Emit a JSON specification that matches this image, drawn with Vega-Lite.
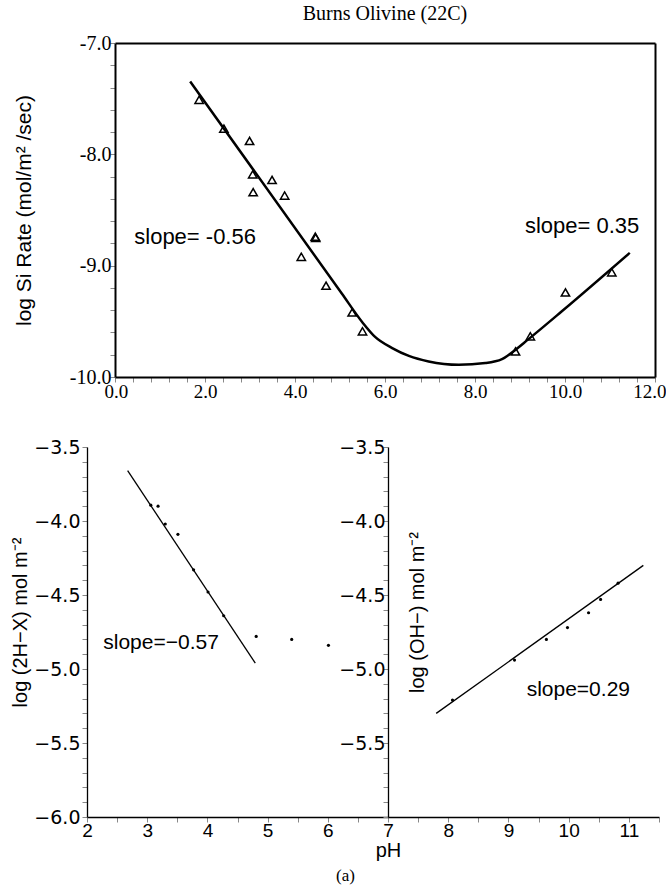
{
  "$schema": "https://vega.github.io/schema/vega-lite/v6.json",
  "background": "white",
  "padding": {"left": 10, "top": 4, "right": 0, "bottom": 2},
  "spacing": 37,
  "config": {
    "view": {"stroke": null},
    "font": "Liberation Sans",
    "axis": {"grid": false, "labelFlush": false, "labelOverlap": false, "labelBound": false, "domainColor": "black", "labelColor": "black", "titleColor": "black", "titleFontWeight": "normal"}
  },
  "vconcat": [
    {
      "width": 540,
      "height": 334,
      "title": {"text": "Burns Olivine (22C)", "font": "Liberation Serif", "fontSize": 20, "fontWeight": "normal", "offset": 9, "frame": "group", "color": "black"},
      "resolve": {"axis": {"x": "independent", "y": "independent"}},
      "layer": [
        {
          "data": {"values": [
            {"x": 1.67, "y": -7.345}, {"x": 5.04, "y": -9.25}, {"x": 5.5, "y": -9.51}, {"x": 5.78, "y": -9.64},
            {"x": 6.16, "y": -9.74}, {"x": 6.53, "y": -9.81}, {"x": 6.97, "y": -9.86}, {"x": 7.64, "y": -9.89},
            {"x": 8.23, "y": -9.875}, {"x": 8.6, "y": -9.84}, {"x": 8.82, "y": -9.78}, {"x": 9.19, "y": -9.66},
            {"x": 9.93, "y": -9.41}, {"x": 11.44, "y": -8.885}
          ]},
          "mark": {"type": "line", "color": "black", "strokeWidth": 2.5, "interpolate": "monotone"},
          "encoding": {
            "x": {"field": "x", "type": "quantitative", "scale": {"domain": [0, 12], "nice": false, "zero": false},
              "axis": {"orient": "bottom", "title": null,
                "values": [0, 0.4, 0.8, 1.2, 1.6, 2, 2.4, 2.8, 3.2, 3.6, 4, 4.4, 4.8, 5.2, 5.6, 6, 6.4, 6.8, 7.2, 7.6, 8, 8.4, 8.8, 9.2, 9.6, 10, 10.4, 10.8, 11.2, 11.6, 12],
                "labelExpr": "datum.value % 2 === 0 ? format(datum.value, '.1f') : ''", "labelFlush": true, "labelFlushOffset": 11,
                "labelFont": "Liberation Serif", "labelFontSize": 19, "labelPadding": 0, "domainWidth": 2}},
            "y": {"field": "y", "type": "quantitative", "scale": {"domain": [-10, -7], "nice": false, "zero": false},
              "axis": {"orient": "left", "title": "log Si Rate (mol/m² /sec)",
                "values": [-7, -7.2, -7.4, -7.6, -7.8, -8, -8.2, -8.4, -8.6, -8.8, -9, -9.2, -9.4, -9.6, -9.8, -10],
                "labelExpr": "datum.value % 1 === 0 ? replace(format(datum.value, '.1f'), '−', '-') : ''",
                "labelFont": "Liberation Serif", "labelFontSize": 20, "labelPadding": -1, "domainWidth": 2,
                "titleFont": "Liberation Sans", "titleFontSize": 21, "titleX": -91, "titleY": 167, "titleBaseline": "middle", "titleAngle": -90}}
          }
        },
        {
          "data": {"values": [
            {"x": 1.87, "y": -7.51}, {"x": 2.42, "y": -7.77}, {"x": 2.99, "y": -7.88}, {"x": 3.06, "y": -8.18},
            {"x": 3.07, "y": -8.34}, {"x": 3.49, "y": -8.23}, {"x": 3.77, "y": -8.37}, {"x": 4.45, "y": -8.74},
            {"x": 4.46, "y": -8.75}, {"x": 4.14, "y": -8.92}, {"x": 4.69, "y": -9.18}, {"x": 5.27, "y": -9.42},
            {"x": 5.5, "y": -9.59}, {"x": 8.9, "y": -9.77}, {"x": 9.23, "y": -9.635}, {"x": 10.01, "y": -9.24},
            {"x": 11.04, "y": -9.06}
          ]},
          "mark": {"type": "point", "shape": "triangle-up", "filled": false, "color": "black", "strokeWidth": 1.5, "size": 70, "opacity": 1},
          "encoding": {
            "x": {"field": "x", "type": "quantitative", "scale": {"domain": [0, 12], "nice": false, "zero": false},
              "axis": {"orient": "top", "title": null, "labels": false, "ticks": false, "domainWidth": 2}},
            "y": {"field": "y", "type": "quantitative", "scale": {"domain": [-10, -7], "nice": false, "zero": false},
              "axis": {"orient": "right", "title": null, "labels": false, "ticks": false, "domainWidth": 2}}
          }
        },
        {
          "data": {"values": [
            {"x": 1.78, "y": -8.74, "label": "slope= -0.56"},
            {"x": 10.38, "y": -8.64, "label": "slope= 0.35"}
          ]},
          "mark": {"type": "text", "font": "Liberation Sans", "fontSize": 22, "color": "black", "align": "center", "baseline": "middle"},
          "encoding": {
            "x": {"field": "x", "type": "quantitative", "scale": {"domain": [0, 12], "nice": false, "zero": false}, "axis": null},
            "y": {"field": "y", "type": "quantitative", "scale": {"domain": [-10, -7], "nice": false, "zero": false}, "axis": null},
            "text": {"field": "label", "type": "nominal"}
          }
        }
      ]
    },
    {
      "width": 544,
      "height": 370,
      "title": {"text": "(a)", "orient": "bottom", "anchor": "start", "frame": "group", "dx": 221, "offset": 8, "font": "Liberation Serif", "fontSize": 17, "fontWeight": "normal", "color": "black"},
      "resolve": {"axis": {"x": "independent", "y": "independent"}},
      "layer": [
        {
          "data": {"values": [
            {"g": "acid", "x": 2.675, "y": -3.66}, {"g": "acid", "x": 4.795, "y": -4.96},
            {"g": "base", "x": 7.8, "y": -5.3}, {"g": "base", "x": 11.24, "y": -4.3}
          ]},
          "mark": {"type": "line", "color": "black", "strokeWidth": 1.3},
          "encoding": {
            "detail": {"field": "g", "type": "nominal"},
            "x": {"field": "x", "type": "quantitative", "scale": {"domain": [2, 11.5], "range": [-28, 544], "nice": false, "zero": false},
              "axis": {"orient": "bottom", "title": "pH",
                "values": [2, 2.5, 3, 3.5, 4, 4.5, 5, 5.5, 6, 6.5, 7, 7.5, 8, 8.5, 9, 9.5, 10, 10.5, 11, 11.5],
                "labelExpr": "datum.value % 1 === 0 ? format(datum.value, 'd') : ''",
                "labelFont": "Liberation Sans", "labelFontSize": 19, "labelPadding": -1, "domainWidth": 1.3,
                "titleFont": "Liberation Sans", "titleFontSize": 20, "titleX": 273, "titleY": 33, "titleAlign": "center", "titleBaseline": "middle"}},
            "y": {"field": "y", "type": "quantitative", "scale": {"domain": [-6, -3.5], "nice": false, "zero": false},
              "axis": {"orient": "left", "offset": 28, "title": "log (2H−X) mol  m⁻²",
                "values": [-6, -5.9, -5.8, -5.7, -5.6, -5.5, -5.4, -5.3, -5.2, -5.1, -5, -4.9, -4.8, -4.7, -4.6, -4.5, -4.4, -4.3, -4.2, -4.1, -4, -3.9, -3.8, -3.7, -3.6, -3.5],
                "labelExpr": "abs(datum.value * 2 - round(datum.value * 2)) < 0.001 ? format(datum.value, '.1f') : ''",
                "labelFont": "DejaVu Sans", "labelFontSize": 19, "labelPadding": 2, "domainWidth": 1.3,
                "titleFont": "Liberation Sans", "titleFontSize": 20, "titleX": -67, "titleY": 175, "titleBaseline": "middle", "titleAngle": -90}}
          }
        },
        {
          "data": {"values": [
            {"x": 3.06, "y": -3.893}, {"x": 3.18, "y": -3.9}, {"x": 3.3, "y": -4.02}, {"x": 3.51, "y": -4.09},
            {"x": 3.77, "y": -4.33}, {"x": 4.01, "y": -4.48}, {"x": 4.27, "y": -4.64}, {"x": 4.81, "y": -4.78},
            {"x": 5.4, "y": -4.8}, {"x": 6.01, "y": -4.84},
            {"x": 8.07, "y": -5.21}, {"x": 9.1, "y": -4.94}, {"x": 9.63, "y": -4.8}, {"x": 9.98, "y": -4.72},
            {"x": 10.33, "y": -4.62}, {"x": 10.53, "y": -4.53}, {"x": 10.82, "y": -4.42}
          ]},
          "mark": {"type": "circle", "color": "black", "size": 10, "opacity": 1},
          "encoding": {
            "x": {"field": "x", "type": "quantitative", "scale": {"domain": [2, 11.5], "range": [-28, 544], "nice": false, "zero": false}, "axis": null},
            "y": {"field": "y", "type": "quantitative", "scale": {"domain": [-6, -3.5], "nice": false, "zero": false}, "axis": null}
          }
        },
        {
          "data": {"values": [
            {"x": 3.23, "y": -4.825, "label": "slope=−0.57"},
            {"x": 10.16, "y": -5.14, "label": "slope=0.29"}
          ]},
          "mark": {"type": "text", "font": "Liberation Sans", "fontSize": 21, "color": "black", "align": "center", "baseline": "middle"},
          "encoding": {
            "x": {"field": "x", "type": "quantitative", "scale": {"domain": [2, 11.5], "range": [-28, 544], "nice": false, "zero": false}, "axis": null},
            "y": {"field": "y", "type": "quantitative", "scale": {"domain": [-6, -3.5], "nice": false, "zero": false},
              "axis": {"orient": "left", "offset": -273, "title": "log (OH−) mol  m⁻²",
                "values": [-6, -5.9, -5.8, -5.7, -5.6, -5.5, -5.4, -5.3, -5.2, -5.1, -5, -4.9, -4.8, -4.7, -4.6, -4.5, -4.4, -4.3, -4.2, -4.1, -4, -3.9, -3.8, -3.7, -3.6, -3.5],
                "labelExpr": "abs(datum.value * 2 - round(datum.value * 2)) < 0.001 && datum.value > -5.95 ? format(datum.value, '.1f') : ''",
                "labelFont": "DejaVu Sans", "labelFontSize": 19, "labelPadding": -2, "domainWidth": 1.3,
                "titleFont": "Liberation Sans", "titleFontSize": 20, "titleX": 29, "titleY": 165, "titleBaseline": "middle", "titleAngle": -90}},
            "text": {"field": "label", "type": "nominal"}
          }
        }
      ]
    }
  ]
}
